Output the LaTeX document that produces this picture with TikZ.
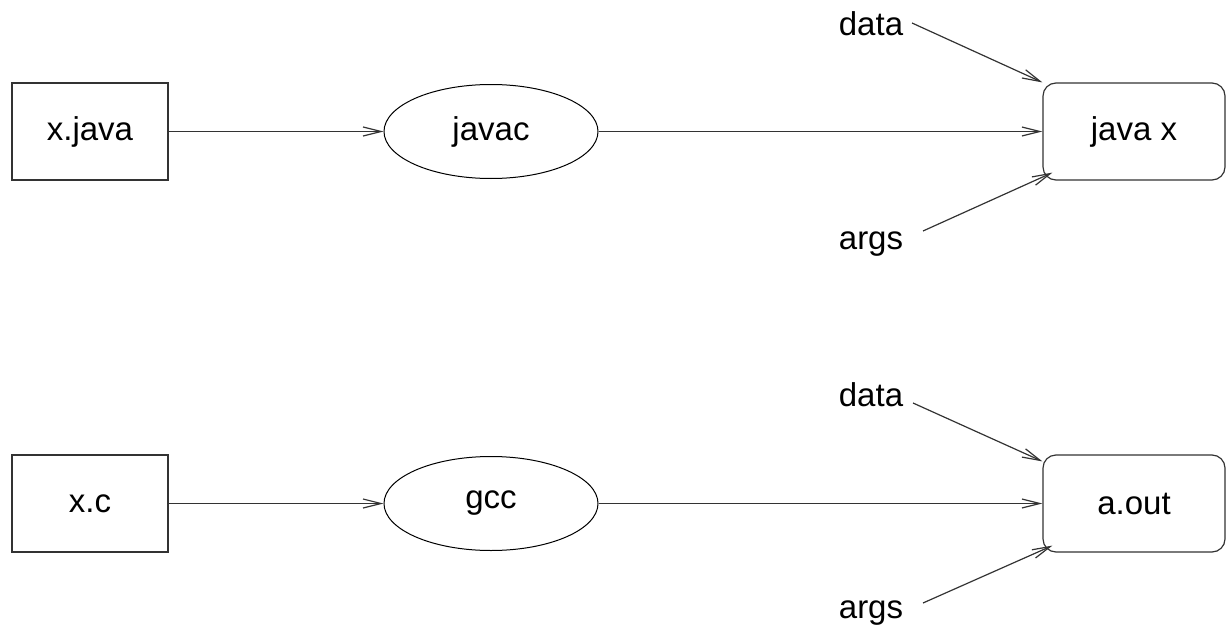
\documentclass[tikz,border=0pt]{standalone}
\usepackage{fontspec}
\setmainfont{Liberation Sans}
\usetikzlibrary{arrows.meta,shapes.geometric}
\begin{document}
\begin{tikzpicture}[x=1pt,y=-1pt,
  every node/.style={font=\fontsize{33}{40}\selectfont},
  linecol/.style={draw=black!80, line width=1.2pt},
  filebox/.style={linecol, rectangle, minimum width=156pt, minimum height=97pt, inner sep=0pt},
  progbox/.style={linecol, rectangle, rounded corners=13pt, minimum width=182pt, minimum height=97pt, inner sep=0pt},
  tool/.style={draw=black, line width=1pt, ellipse, minimum width=214pt, minimum height=94pt, inner sep=0pt},
  lbl/.style={anchor=base, inner sep=0pt},
  arr/.style={linecol, -{Straight Barb[length=18pt,width=9pt,line width=1.2pt]}}
]
\useasboundingbox (0,0) rectangle (1226,634);

% top row
\node[filebox] (xj) at (90,131.5) {x.java};
\node[tool] (jc) at (491,131.5) {javac};
\node[progbox] (jx) at (1134,131.5) {java x};
\node[lbl] (d1) at (871,36) {data};
\node[lbl] (a1) at (871,249) {args};
\coordinate (d1s) at (912,23);
\coordinate (a1s) at (923,231);

\draw[arr] (xj) -- (jc);
\draw[arr] (jc) -- (jx);
\draw[arr] (d1s) -- (jx.north west);
\draw[arr] (a1s) -- ([xshift=10pt,yshift=8pt]jx.south west);

% bottom row
\node[filebox] (xc) at (90,503.5) {x.c};
\node[tool] (gc) at (491,503.5) {gcc};
\node[progbox] (ao) at (1134,503.5) {a.out};
\node[lbl] (d2) at (871,406) {data};
\node[lbl] (a2) at (871,618) {args};
\coordinate (d2s) at (913,403);
\coordinate (a2s) at (923,603);

\draw[arr] (xc) -- (gc);
\draw[arr] (gc) -- (ao);
\draw[arr] (d2s) -- ([yshift=-7pt]ao.north west);
\draw[arr] (a2s) -- ([xshift=10pt,yshift=7pt]ao.south west);
\end{tikzpicture}
\end{document}
